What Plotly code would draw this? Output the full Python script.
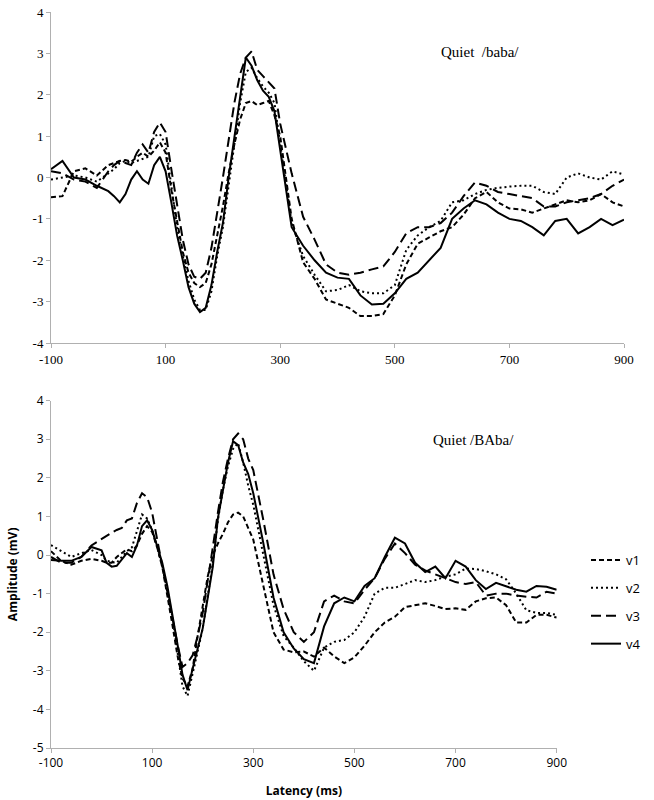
import plotly.graph_objects as go

latency = [-100, -80, -60, -40, -20, 0,
           10, 20, 30, 40, 50, 60, 70, 80, 90, 100,
           110, 120, 130, 140, 150, 160, 170, 180, 190, 200,
           210, 220, 230, 240, 250, 260, 270, 280, 290, 300,
           320, 340, 360, 380, 400, 420, 440, 460, 480, 500, 520, 540, 560, 580,
           600, 620, 640, 660, 680, 700, 720, 740, 760, 780, 800, 820, 840, 860, 880, 900]

series_names = ["v1", "v2", "v3", "v4"]

# Quiet /baba/
baba_v1 = [-0.48, -0.45, 0.15, 0.22, 0.05, 0.3,
           0.35, 0.4, 0.42, 0.38, 0.5, 0.6, 0.5, 0.65, 0.85, 0.6,
           -0.3, -1.1, -1.8, -2.3, -2.55, -2.65, -2.55, -2.1, -1.4, -0.7,
           0.1, 0.8, 1.4, 1.8, 1.85, 1.75, 1.8, 1.85, 1.5, 1.0,
           -1.0, -2.05, -2.45, -2.95, -3.05, -3.15, -3.35, -3.35, -3.3, -2.85, -2.1, -1.6, -1.45, -1.3,
           -1.2, -0.9, -0.5, -0.35, -0.6, -0.75, -0.77, -0.85, -0.75, -0.65, -0.55, -0.6, -0.55, -0.4, -0.6, -0.7]
baba_v2 = [-0.05, 0.0, 0.05, 0.0, -0.1, 0.1,
           0.2, 0.35, 0.4, 0.35, 0.4, 0.45, 0.5, 1.0, 1.05, 0.8,
           -0.2, -1.2, -1.9, -2.5, -2.95, -3.2, -3.2, -2.75, -1.9, -1.2,
           -0.2, 0.8, 1.8, 2.55, 2.65, 2.4, 2.2, 2.05, 1.8, 0.8,
           -1.1, -1.9, -2.35, -2.75, -2.72, -2.6, -2.75, -2.8, -2.8, -2.6, -1.75, -1.4, -1.2, -1.05,
           -0.6, -0.55, -0.4, -0.3, -0.25, -0.22, -0.2, -0.2, -0.35, -0.4, 0.0, 0.1, 0.0, -0.05, 0.15, 0.07]
baba_v3 = [0.15, 0.1, -0.05, -0.1, -0.25, 0.15,
           0.3, 0.4, 0.35, 0.3, 0.6, 0.8, 0.6, 1.1, 1.33, 1.1,
           0.2, -0.7, -1.5, -2.1, -2.4, -2.45, -2.3, -1.7, -0.9, 0.0,
           0.9, 1.8, 2.5, 2.9, 3.05, 2.6, 2.45, 2.3, 2.15, 1.3,
           0.1, -0.95, -1.5, -2.1, -2.3, -2.35, -2.3, -2.22, -2.15, -1.8, -1.35, -1.2, -1.2, -1.1,
           -0.85, -0.45, -0.12, -0.2, -0.35, -0.4, -0.45, -0.5, -0.7, -0.7, -0.6, -0.55, -0.5, -0.4, -0.2, -0.05]
baba_v4 = [0.2, 0.4, 0.0, -0.05, -0.2, -0.33,
           -0.45, -0.6, -0.4, -0.05, 0.15, -0.05, -0.15, 0.3, 0.5, 0.15,
           -0.6, -1.4, -2.0, -2.65, -3.05, -3.25, -3.15, -2.6, -1.8, -1.1,
           0.0, 0.95, 2.0, 2.9, 2.7, 2.35, 2.1, 1.95, 1.6, 0.7,
           -1.2, -1.65, -2.0, -2.3, -2.42, -2.45, -2.85, -3.07, -3.05, -2.8, -2.45, -2.3, -2.0, -1.7,
           -1.0, -0.75, -0.55, -0.65, -0.85, -1.0, -1.05, -1.2, -1.4, -1.05, -1.0, -1.35, -1.2, -1.0, -1.15, -1.02]

# Quiet /BAba/
BAba_v1 = [0.1, -0.15, -0.25, -0.15, -0.1, -0.15,
           -0.2, -0.2, -0.05, 0.05, 0.15, 0.1, 0.25, 0.55, 0.75, 0.6,
           0.2, -0.3, -1.0, -1.8, -2.6, -3.2, -3.4, -2.95, -2.1, -1.3,
           -0.55, 0.0, 0.3, 0.55, 0.85, 1.05, 1.1, 1.0, 0.7, 0.4,
           -0.8, -2.0, -2.45, -2.52, -2.5, -2.63, -2.4, -2.63, -2.8, -2.65, -2.35, -2.0, -1.75, -1.6,
           -1.35, -1.3, -1.25, -1.32, -1.4, -1.38, -1.42, -1.2, -1.12, -1.1, -1.3, -1.75, -1.75, -1.55, -1.55, -1.62]
BAba_v2 = [0.26, 0.1, -0.05, 0.05, 0.13, 0.0,
           -0.15, -0.18, -0.2, -0.05, 0.1, 0.2, 0.6, 1.05, 0.95, 0.65,
           0.2, -0.3, -0.9, -1.6, -2.5, -3.4, -3.65, -3.1, -2.5, -1.9,
           -1.0, -0.2, 0.9, 1.7, 2.3, 2.75, 2.9, 2.4, 1.8, 1.3,
           0.0, -1.3, -2.1, -2.4, -2.75, -3.0, -2.4, -2.25, -2.2, -2.0, -1.6, -1.0, -0.85, -0.85,
           -0.75, -0.65, -0.7, -0.65, -0.56, -0.5, -0.35, -0.36, -0.42, -0.5, -0.63, -1.0, -1.43, -1.5, -1.5, -1.55]
BAba_v3 = [-0.05, -0.2, -0.2, -0.05, 0.25, 0.42,
           0.5, 0.58, 0.65, 0.7, 0.9, 0.95, 1.35, 1.6, 1.5, 1.1,
           0.4, -0.3, -1.0, -1.7, -2.3, -2.9, -2.8, -2.6, -2.1, -1.5,
           -0.7, 0.2, 1.1, 1.9, 2.5, 3.0, 3.15, 3.0, 2.5, 2.2,
           0.9, -0.5, -1.4, -2.0, -2.25, -2.0, -1.2, -1.05, -1.2, -1.25, -0.9, -0.6, -0.1, 0.3,
           0.05, -0.25, -0.4, -0.5, -0.6, -0.7, -0.75, -0.7, -1.05, -1.0, -1.0, -1.05, -1.08, -1.1, -0.95, -1.0]
BAba_v4 = [-0.13, -0.15, -0.15, -0.05, 0.21, 0.12,
           -0.2, -0.3, -0.28, -0.1, 0.05, -0.05, 0.25, 0.75, 0.9, 0.65,
           0.25, -0.2, -0.8, -1.5, -2.3, -3.1, -3.5, -2.95, -2.45, -1.9,
           -1.1, -0.3, 0.95, 1.7, 2.4, 2.95, 2.85, 2.4, 2.1, 1.6,
           0.3, -1.1, -2.0, -2.42, -2.7, -2.8, -1.85, -1.25, -1.1, -1.2, -0.8, -0.6, -0.05, 0.45,
           0.3, -0.2, -0.44, -0.3, -0.6, -0.15, -0.3, -0.65, -0.88, -0.72, -0.8, -0.9, -0.95, -0.8, -0.82, -0.9]

x_ticks = [-100, 100, 300, 500, 700, 900]
y_ticks_top = [-4, -3, -2, -1, 0, 1, 2, 3, 4]
y_ticks_bottom = [-5, -4, -3, -2, -1, 0, 1, 2, 3, 4]

dashes = {"v1": "5px,3px", "v2": "2px,3px", "v3": "10px,5px", "v4": "solid"}

fig = go.Figure()
top = [baba_v1, baba_v2, baba_v3, baba_v4]
bottom = [BAba_v1, BAba_v2, BAba_v3, BAba_v4]
for name, ys in zip(series_names, top):
    fig.add_trace(go.Scatter(x=latency, y=ys, mode="lines", name=name, showlegend=False,
                             line=dict(color="black", width=2, dash=dashes[name]),
                             xaxis="x", yaxis="y"))
for name, ys in zip(series_names, bottom):
    fig.add_trace(go.Scatter(x=latency, y=ys, mode="lines", name=name, legendgroup=name,
                             line=dict(color="black", width=2, dash=dashes[name]),
                             xaxis="x2", yaxis="y2"))

serif = "Liberation Serif, Times New Roman, serif"
sans = "Open Sans, Noto Sans, sans-serif"
axcol = "#b0b0b0"

common_axis = dict(showgrid=False, zeroline=False, showline=True, linecolor=axcol, linewidth=1,
                   ticks="outside", ticklen=4, tickcolor=axcol, tickwidth=1, automargin=False)

fig.update_layout(
    template="none",
    width=654, height=800,
    margin=dict(l=0, r=0, t=0, b=0, autoexpand=False),
    paper_bgcolor="white", plot_bgcolor="white",
    xaxis=dict(domain=[51/654, 624/654], range=[-100, 900], anchor="y",
               tickmode="array", tickvals=x_ticks, ticktext=[str(v) for v in x_ticks],
               tickfont=dict(family=serif, size=13, color="black"), **common_axis),
    yaxis=dict(domain=[1 - 343/800, 1 - 12/800], range=[-4, 4], anchor="x",
               tickmode="array", tickvals=y_ticks_top, ticktext=[str(v) for v in y_ticks_top],
               tickfont=dict(family=serif, size=13, color="black"), **common_axis),
    xaxis2=dict(domain=[51/654, 556.7/654], range=[-100, 900], anchor="y2",
                tickmode="array", tickvals=x_ticks, ticktext=[str(v) for v in x_ticks],
                tickfont=dict(family=sans, size=12, color="black"),
                title=dict(text="<b>Latency (ms)</b>", font=dict(family=sans, size=12, color="black"), standoff=16),
                **common_axis),
    yaxis2=dict(domain=[1 - 748/800, 1 - 400.7/800], range=[-5, 4], anchor="x2",
                tickmode="array", tickvals=y_ticks_bottom, ticktext=[str(v) for v in y_ticks_bottom],
                tickfont=dict(family=sans, size=12, color="black"),
                title=dict(text="<b>Amplitude (mV)</b>", font=dict(family=sans, size=12, color="black"), standoff=12),
                **common_axis),
    showlegend=True,
    legend=dict(x=586/654, y=1 - 545/800, xanchor="left", yanchor="top",
                font=dict(family=sans, size=13, color="black"), tracegroupgap=8,
                bgcolor="rgba(0,0,0,0)", itemwidth=30),
    annotations=[
        dict(text="Quiet  /baba/", x=521/654, y=1 - 42/800, xref="paper", yref="paper",
             showarrow=False, font=dict(family=serif, size=15, color="black")),
        dict(text="Quiet /BAba/", x=516/654, y=1 - 440/800, xref="paper", yref="paper",
             showarrow=False, font=dict(family=serif, size=15, color="black")),
    ],
)

fig.write_html("out.html", config={"displayModeBar": False},
               post_script="document.body.style.margin='0';")
